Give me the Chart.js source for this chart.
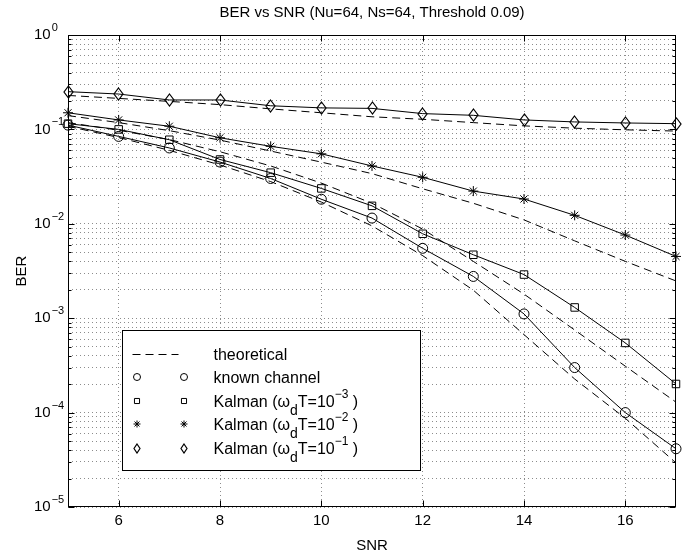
<!DOCTYPE html>
<html lang="en">
<head>
    <meta charset="UTF-8">
    <title>BER vs SNR</title>
    <script src="https://cdn.jsdelivr.net/npm/chart.js"></script>
    <style>
        * {
            margin: 0;
            padding: 0;
            box-sizing: border-box;
        }
        body {
            background: #fff;
            width: 683px;
            height: 553px;
            overflow: hidden;
        }
        canvas {
            display: block;
        }
    </style>
</head>
<body>
    <canvas id="berChart" width="683" height="553"></canvas>

    <script>
        // SNR points (x axis) and the measured / theoretical BER curves
        const snr = [5, 6, 7, 8, 9, 10, 11, 12, 13, 14, 15, 16, 17];

        const berKnown = [0.111, 0.0843, 0.0636, 0.0451, 0.0302, 0.0182, 0.0115, 0.0055, 0.00277, 0.00111, 0.0003, 0.0001, 0.0000414];
        const berKalman3 = [0.115, 0.100, 0.0777, 0.048, 0.0348, 0.0237, 0.0155, 0.00784, 0.0047, 0.0029, 0.0013, 0.000547, 0.000201];
        const berKalman2 = [0.150, 0.126, 0.108, 0.0815, 0.0662, 0.0551, 0.041, 0.0311, 0.0222, 0.0183, 0.0123, 0.0076, 0.00451];
        const berKalman1 = [0.251, 0.237, 0.205, 0.205, 0.178, 0.169, 0.167, 0.147, 0.141, 0.126, 0.120, 0.117, 0.115];

        const theoryKnown = [0.108, 0.082, 0.060, 0.042, 0.028, 0.017, 0.0095, 0.0046, 0.00198, 0.00067, 0.000227, 0.000087, 0.0000293];
        const theoryKalman3 = [0.118, 0.098, 0.078, 0.058, 0.041, 0.027, 0.0165, 0.0088, 0.0040, 0.0018, 0.00075, 0.00031, 0.000129];
        const theoryKalman2 = [0.140, 0.118, 0.097, 0.077, 0.059, 0.045, 0.034, 0.0235, 0.0165, 0.011, 0.0066, 0.0040, 0.00248];
        const theoryKalman1 = [0.229, 0.213, 0.198, 0.183, 0.165, 0.150, 0.136, 0.128, 0.118, 0.109, 0.103, 0.099, 0.096];

        const xTicks = [6, 8, 10, 12, 14, 16];
        const yDecades = [-5, -4, -3, -2, -1, 0];

        const titleText = 'BER vs SNR (Nu=64, Ns=64, Threshold 0.09)';
        const xTitle = 'SNR';
        const yTitle = 'BER';
        const kalmanExps = ['\u22123', '\u22122', '\u22121'];

        const FONT = '"Liberation Sans", Arial, Helvetica, sans-serif';

        // matlab style diamond (a bit taller than wide)
        function diamond(w, h) {
            const c = document.createElement('canvas');
            c.width = w + 2;
            c.height = h + 2;
            const g = c.getContext('2d');
            g.strokeStyle = '#000';
            g.lineWidth = 1.2;
            g.beginPath();
            g.moveTo(c.width / 2, 1);
            g.lineTo(c.width - 1, c.height / 2);
            g.lineTo(c.width / 2, c.height - 1);
            g.lineTo(1, c.height / 2);
            g.closePath();
            g.stroke();
            return c;
        }
        const bigDiamond = diamond(9, 12);
        const smallDiamond = diamond(6, 9);

        function pts(arr) {
            return snr.map((x, i) => ({ x: x, y: arr[i] }));
        }

        function dashed(label, arr) {
            return {
                label: label, data: pts(arr),
                borderColor: '#000', borderWidth: 1, borderDash: [8, 5],
                pointRadius: 0, pointHoverRadius: 0, fill: false, clip: false
            };
        }

        function solid(label, arr, style, r) {
            return {
                label: label, data: pts(arr),
                borderColor: '#000', borderWidth: 1, fill: false, clip: false,
                pointStyle: style, pointRadius: r, pointHoverRadius: r,
                pointBorderColor: '#000', pointBackgroundColor: 'rgba(0,0,0,0)', pointBorderWidth: 1
            };
        }

        const datasets = [
            dashed('theoretical', theoryKnown),
            dashed('theoretical', theoryKalman3),
            dashed('theoretical', theoryKalman2),
            dashed('theoretical', theoryKalman1),
            solid('known channel', berKnown, 'circle', 5),
            solid('Kalman 1e-3', berKalman3, 'rect', 5.3),
            solid('Kalman 1e-2', berKalman2, 'star', 5),
            solid('Kalman 1e-1', berKalman1, bigDiamond, 5)
        ];

        // legend rows: line sample or marker, then text pieces (sub / sup)
        function kalmanText(e) {
            return [
                { t: 'Kalman (\u03c9' }, { t: 'd', sub: true }, { t: 'T=10' }, { t: e, sup: true }, { t: ' )' }
            ];
        }
        const legendRows = [
            { dash: true, parts: [{ t: 'theoretical' }] },
            { marker: 'circle', r: 3.5, parts: [{ t: 'known channel' }] },
            { marker: 'rect', r: 3.6, parts: kalmanText(kalmanExps[0]) },
            { marker: 'star', r: 3.5, parts: kalmanText(kalmanExps[1]) },
            { marker: smallDiamond, r: 3.5, parts: kalmanText(kalmanExps[2]) }
        ];

        function drawParts(ctx, parts, x, base) {
            parts.forEach(p => {
                let size = 16, dy = 0;
                if (p.sub) { size = 14; dy = 8; }
                if (p.sup) { size = 12; dy = -9; }
                ctx.font = size + 'px ' + FONT;
                ctx.fillText(p.t, x, base + dy);
                x += ctx.measureText(p.t).width;
            });
        }

        // nearest-neighbour so the diamond images stay sharp
        const crispPlugin = {
            id: 'crisp',
            beforeDatasetsDraw(chart) {
                chart.ctx.imageSmoothingEnabled = false;
            }
        };

        const legendPlugin = {
            id: 'matlabLegend',
            afterDatasetsDraw(chart) {
                const { ctx, chartArea } = chart;
                const bx = Math.round(chartArea.left) + 54.5;
                const by = Math.round(chartArea.top) + 295.5;
                const bw = 298, bh = 140;
                ctx.save();
                ctx.imageSmoothingEnabled = false;
                ctx.fillStyle = '#fff';
                ctx.fillRect(bx, by, bw, bh);
                ctx.strokeStyle = '#000';
                ctx.lineWidth = 1;
                ctx.strokeRect(bx, by, bw, bh);

                legendRows.forEach((row, i) => {
                    const y = by + 23.3 + i * 23.5;
                    ctx.strokeStyle = '#000';
                    ctx.fillStyle = 'rgba(0,0,0,0)';
                    ctx.lineWidth = 1;
                    if (row.dash) {
                        ctx.setLineDash([8, 5]);
                        ctx.beginPath();
                        ctx.moveTo(bx + 10, Math.round(y) + 0.5);
                        ctx.lineTo(bx + 56, Math.round(y) + 0.5);
                        ctx.stroke();
                        ctx.setLineDash([]);
                    } else {
                        const opts = { pointStyle: row.marker, radius: row.r, rotation: 0, borderWidth: 1 };
                        Chart.helpers.drawPoint(ctx, opts, Math.round(bx + 14), Math.round(y));
                        Chart.helpers.drawPoint(ctx, opts, Math.round(bx + 61), Math.round(y));
                    }
                    ctx.fillStyle = '#000';
                    ctx.textBaseline = 'alphabetic';
                    ctx.textAlign = 'left';
                    drawParts(ctx, row.parts, bx + 91, y + 6);
                });
                ctx.restore();
            }
        };

        // box round the axes, inward ticks and the 10^n labels
        const framePlugin = {
            id: 'frame',
            afterDraw(chart) {
                const { ctx, chartArea: a, scales } = chart;
                const xs = scales.x, ys = scales.y;
                const L = Math.round(a.left) + 0.5, R = Math.round(a.right) - 0.5;
                const T = Math.round(a.top) + 0.5, B = Math.round(a.bottom) - 0.5;
                ctx.save();
                ctx.strokeStyle = '#000';
                ctx.lineWidth = 1;
                ctx.strokeRect(L, T, R - L, B - T);

                ctx.beginPath();
                xs.ticks.forEach(t => {
                    const px = Math.round(xs.getPixelForValue(t.value)) + 0.5;
                    ctx.moveTo(px, B); ctx.lineTo(px, B - 6);
                    ctx.moveTo(px, T); ctx.lineTo(px, T + 6);
                });
                ys.ticks.forEach(t => {
                    const py = Math.round(ys.getPixelForValue(t.value)) + 0.5;
                    const lg = Math.log10(t.value);
                    const len = Math.abs(lg - Math.round(lg)) < 1e-6 ? 6 : 3;
                    ctx.moveTo(L, py); ctx.lineTo(L + len, py);
                    ctx.moveTo(R, py); ctx.lineTo(R - len, py);
                });
                ctx.stroke();

                ctx.fillStyle = '#000';
                ctx.textAlign = 'left';
                ctx.textBaseline = 'middle';
                yDecades.forEach(k => {
                    const py = ys.getPixelForValue(Math.pow(10, k));
                    ctx.font = '15px ' + FONT;
                    ctx.fillText('10', 34, py);
                    const w = ctx.measureText('10').width;
                    ctx.font = '11px ' + FONT;
                    ctx.fillText(k === 0 ? '0' : '\u2212' + (-k), 34 + w + 1, py - 7);
                });
                ctx.restore();
            }
        };

        const ctx = document.getElementById('berChart').getContext('2d');

        const chart = new Chart(ctx, {
            type: 'line',
            data: { datasets: datasets },
            options: {
                responsive: false,
                animation: false,
                events: [],
                layout: { padding: { left: 0, right: 7, top: 0, bottom: 0 } },
                scales: {
                    x: {
                        type: 'linear',
                        min: 5,
                        max: 17,
                        afterBuildTicks: scale => {
                            scale.ticks = xTicks.map(v => ({ value: v }));
                        },
                        ticks: {
                            color: '#000',
                            padding: 6,
                            maxRotation: 0,
                            font: { family: FONT, size: 15, lineHeight: 1 }
                        },
                        grid: { color: '#8c8c8c', lineWidth: 1, drawTicks: false },
                        border: { display: false, dash: [1, 3] },
                        title: {
                            display: true,
                            text: xTitle,
                            color: '#000',
                            font: { family: FONT, size: 15, lineHeight: 1 },
                            padding: { top: 4, bottom: 0 }
                        }
                    },
                    y: {
                        type: 'logarithmic',
                        min: Math.pow(10, yDecades[0]),
                        max: Math.pow(10, yDecades[yDecades.length - 1]),
                        afterBuildTicks: scale => {
                            const t = [];
                            yDecades.forEach((k, i) => {
                                if (i === yDecades.length - 1) {
                                    t.push({ value: Math.pow(10, k) });
                                    return;
                                }
                                for (let m = 1; m <= 9; m++) {
                                    t.push({ value: m * Math.pow(10, k) });
                                }
                            });
                            scale.ticks = t;
                        },
                        ticks: { display: false },
                        grid: { color: '#8c8c8c', lineWidth: 1, drawTicks: false },
                        border: { display: false, dash: [1, 3] },
                        title: {
                            display: true,
                            text: yTitle,
                            color: '#000',
                            font: { family: FONT, size: 15, lineHeight: 1.2 },
                            padding: { top: 13, bottom: 37 }
                        }
                    }
                },
                plugins: {
                    legend: { display: false },
                    tooltip: { enabled: false },
                    title: {
                        display: true,
                        text: titleText,
                        color: '#000',
                        fullSize: false,
                        font: { family: FONT, size: 15, weight: 'normal', lineHeight: 1.2 },
                        padding: { top: 4, bottom: 13 }
                    }
                }
            },
            plugins: [crispPlugin, legendPlugin, framePlugin]
        });
    </script>
</body>
</html>
